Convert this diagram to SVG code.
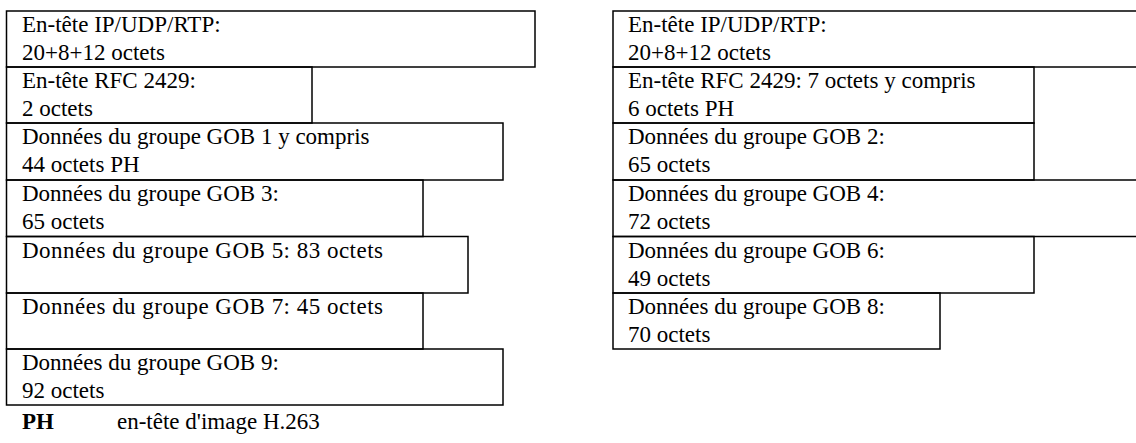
<svg xmlns="http://www.w3.org/2000/svg" width="1136" height="443" viewBox="0 0 1136 443">
<style>
.b{fill:none;stroke:#000;stroke-width:1.5}
.t{font-family:"Liberation Serif","Times New Roman",serif;font-size:23px;fill:#000}
.bold{font-weight:bold}
</style>
<rect width="1136" height="443" fill="#fff"/>
<g id="left-ip"><rect class="b" x="6.5" y="11" width="528.5" height="56"/><text class="t" x="22" y="32">En-tête IP/UDP/RTP:</text><text class="t" x="22" y="60">20+8+12 octets</text></g>
<g id="left-rfc"><rect class="b" x="6.5" y="67" width="305.5" height="56"/><text class="t" x="22" y="88">En-tête RFC 2429:</text><text class="t" x="22" y="116">2 octets</text></g>
<g id="gob1"><rect class="b" x="6.5" y="123" width="496.5" height="57"/><text class="t" x="22" y="144">Données du groupe GOB 1 y compris</text><text class="t" x="22" y="172">44 octets PH</text></g>
<g id="gob3"><rect class="b" x="6.5" y="180" width="416.5" height="56.5"/><text class="t" x="22" y="201">Données du groupe GOB 3:</text><text class="t" x="22" y="229">65 octets</text></g>
<g id="gob5"><rect class="b" x="6.5" y="236.5" width="461.5" height="56.5"/><text class="t" x="22" y="258" textLength="361" lengthAdjust="spacing">Données du groupe GOB 5: 83 octets</text></g>
<g id="gob7"><rect class="b" x="6.5" y="293" width="416.5" height="56"/><text class="t" x="22" y="314" textLength="361" lengthAdjust="spacing">Données du groupe GOB 7: 45 octets</text></g>
<g id="gob9"><rect class="b" x="6.5" y="349" width="496.5" height="56"/><text class="t" x="22" y="370">Données du groupe GOB 9:</text><text class="t" x="22" y="398">92 octets</text></g>
<g id="right-ip"><rect class="b" x="613" y="11" width="540" height="56"/><text class="t" x="628" y="32">En-tête IP/UDP/RTP:</text><text class="t" x="628" y="60">20+8+12 octets</text></g>
<g id="right-rfc"><rect class="b" x="613" y="67" width="421" height="56"/><text class="t" x="628" y="88">En-tête RFC 2429: 7 octets y compris</text><text class="t" x="628" y="116">6 octets PH</text></g>
<g id="gob2"><rect class="b" x="613" y="123" width="421" height="57"/><text class="t" x="628" y="144">Données du groupe GOB 2:</text><text class="t" x="628" y="172">65 octets</text></g>
<g id="gob4"><rect class="b" x="613" y="180" width="540" height="56.5"/><text class="t" x="628" y="201">Données du groupe GOB 4:</text><text class="t" x="628" y="229">72 octets</text></g>
<g id="gob6"><rect class="b" x="613" y="236.5" width="421" height="56.5"/><text class="t" x="628" y="258">Données du groupe GOB 6:</text><text class="t" x="628" y="286">49 octets</text></g>
<g id="gob8"><rect class="b" x="613" y="293" width="327" height="56"/><text class="t" x="628" y="314">Données du groupe GOB 8:</text><text class="t" x="628" y="342">70 octets</text></g>
<g id="connectors"></g>
<g id="legend"><text class="t bold" x="22" y="429">PH</text><text class="t" x="117" y="429">en-tête d'image H.263</text></g>
</svg>
